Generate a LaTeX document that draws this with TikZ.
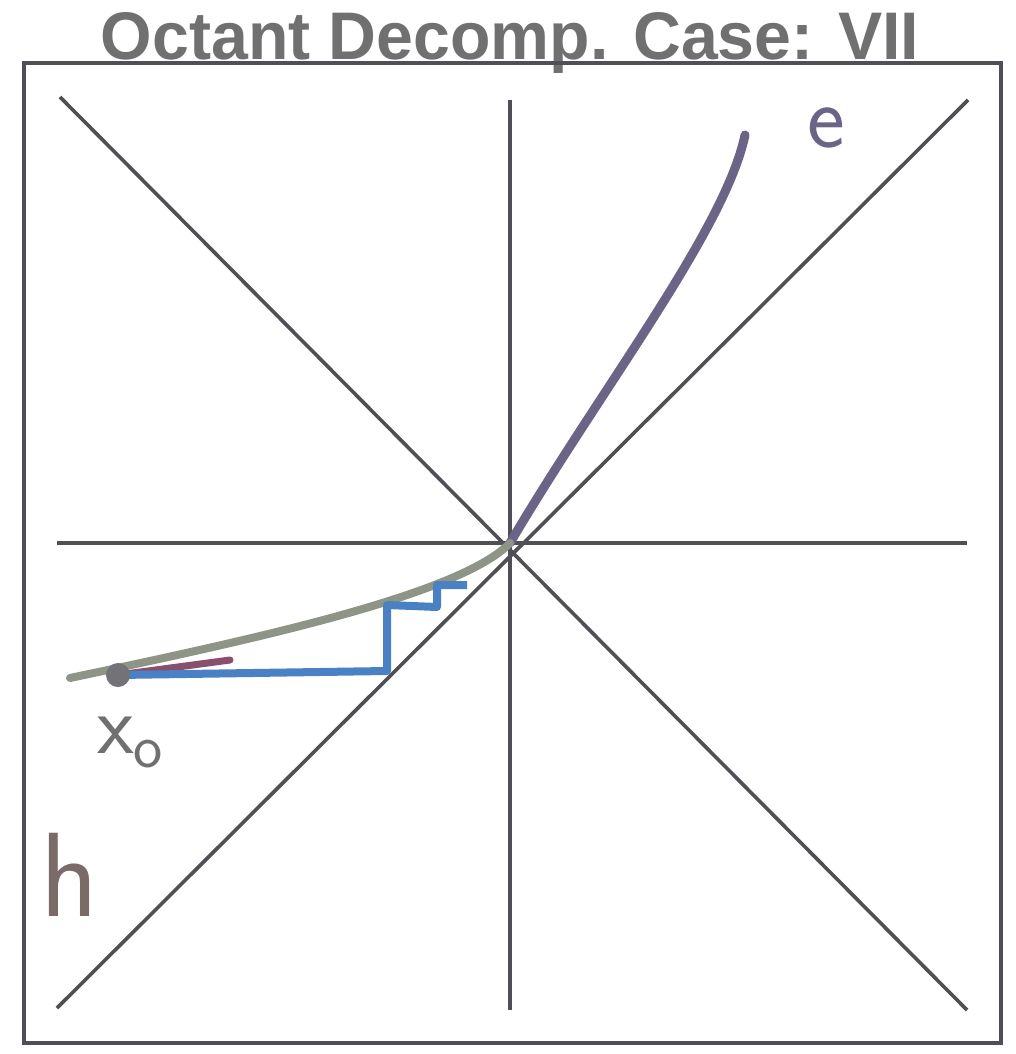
\documentclass[tikz,border=0pt]{standalone}
\usepackage{fontspec}
\setmainfont{Liberation Sans}
\usepackage{graphicx}
\definecolor{axisgray}{HTML}{4F4F55}
\definecolor{curvepurple}{HTML}{6C6486}
\definecolor{curveolive}{HTML}{8E9486}
\definecolor{stepblue}{HTML}{4A80C4}
\definecolor{titlegray}{HTML}{707070}
\definecolor{hbrown}{HTML}{7A6A68}
\tikzset{
  axisline/.style={draw=axisgray, line width=3.6pt},
  framebox/.style={draw=axisgray, line width=4.2pt},
  ecurve/.style={draw=curvepurple, line width=9pt, line cap=round},
  lcurve/.style={draw=curveolive, line width=8pt, line cap=round},
  stepline/.style={draw=stepblue, line width=8pt, line join=round},
  handlabel/.style={font=\sffamily, inner sep=0pt}
}
\begin{document}
\begin{tikzpicture}[x=1pt,y=-1pt]
\useasboundingbox (0,0) rectangle (1016,1054);
% title
\node[anchor=base, text=titlegray, inner sep=0pt] (title) at (510,60)
  {\resizebox{818pt}{47pt}{\bfseries Octant Decomp. Case: VII}};
% frame
\draw[framebox] (24,63) rectangle (1001,1043);
% axes
\coordinate (c) at (510,543);
\coordinate (hl) at (57,543);
\coordinate (hr) at (967,543);
\coordinate (vt) at (510,100);
\coordinate (vb) at (510,1010);
\coordinate (dtl) at (60,97);
\coordinate (dbr) at (967,1010);
\coordinate (dtr) at (968,100);
\coordinate (dbl) at (57,1008);
\draw[axisline] (hl) -- (hr);
\draw[axisline] (vt) -- (vb);
\draw[axisline] (dtl) -- (dbr);
\draw[axisline] (dtr) -- (dbl);
% curve e (upper part)
\coordinate (etop) at (745,135);
\draw[ecurve] (etop) .. controls (725,230) and (600,390) .. (c);
% curve (lower part)
\coordinate (lend) at (70,678);
\draw[lcurve] (c) .. controls (460,595) and (250,640) .. (lend);
% purple overlap near x0
\coordinate (x0) at (118,675);
\draw[draw=curvepurple!80!red, line width=7pt, line cap=round] (x0) -- (230,660);
% blue steps
\coordinate (s1) at (387,671);
\coordinate (s2) at (387,605);
\coordinate (s3) at (437,607);
\coordinate (s4) at (437,585);
\coordinate (s5) at (467,585);
\draw[stepline] (x0) -- (s1) -- (s2) -- (s3) -- (s4) -- (s5);
% point x0
\fill[axisgray!80] (x0) circle (12);
% labels
\node[handlabel, text=curvepurple, font=\sffamily\fontsize{90}{90}\selectfont] (elab) at (826,128) {e};
\node[handlabel, text=titlegray, font=\sffamily\fontsize{85}{85}\selectfont] (xlab) at (130,742) {x\raisebox{-14pt}{\fontsize{62}{62}\selectfont o}};
\node[handlabel, text=hbrown, font=\sffamily\fontsize{120}{120}\selectfont] (hlab) at (70,875) {h};
\end{tikzpicture}
\end{document}
